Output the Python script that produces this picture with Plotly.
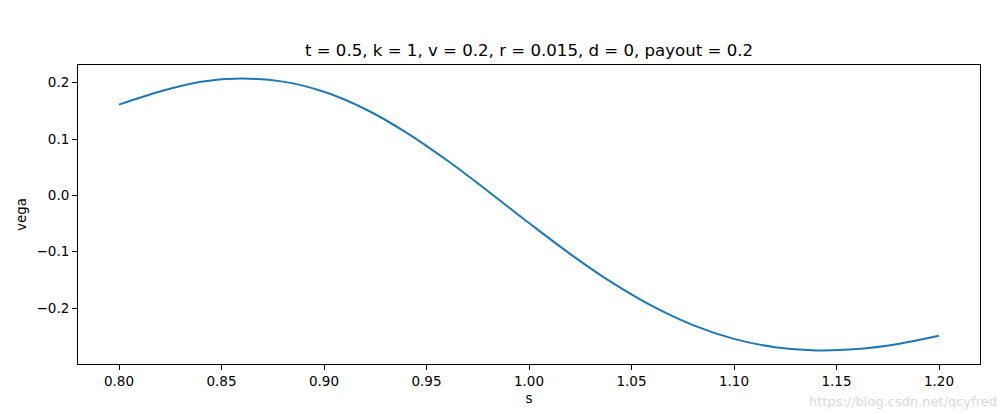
import plotly.graph_objects as go

s_values = [0.80, 0.82, 0.84, 0.86, 0.88, 0.90, 0.92, 0.94, 0.96, 0.98, 1.00,
            1.02, 1.04, 1.06, 1.08, 1.10, 1.12, 1.14, 1.16, 1.18, 1.20]
vega_values = [0.1612, 0.1846, 0.2018, 0.2074, 0.2020, 0.1839, 0.1534, 0.1120, 0.0623, 0.0075, -0.0490,
               -0.1037, -0.1536, -0.1963, -0.2303, -0.2547, -0.2695, -0.2752, -0.2728, -0.2637, -0.2493]
x_ticks = [0.80, 0.85, 0.90, 0.95, 1.00, 1.05, 1.10, 1.15, 1.20]
y_ticks = [-0.2, -0.1, 0.0, 0.1, 0.2]
title_text = "t = 0.5, k = 1, v = 0.2, r = 0.015, d = 0, payout = 0.2"

fig = go.Figure()
fig.add_trace(go.Scatter(x=s_values, y=vega_values, mode="lines",
                         line=dict(color="#1f77b4", width=2, shape="spline", smoothing=1.0),
                         showlegend=False, hoverinfo="skip"))

font = "DejaVu Sans"
axis_common = dict(showgrid=False, zeroline=False, showline=True, linecolor="black", linewidth=1,
                   mirror=True, ticks="outside", ticklen=5, tickwidth=1, tickcolor="black",
                   automargin=False,
                   tickfont=dict(family=font, size=13.5, color="black"))

W, H = 1000, 406
L, R, T, B = 70, 28, 57, 50
pw, ph = W - L - R, H - T - B

fig.update_layout(
    width=W, height=H,
    margin=dict(l=L, r=R, t=T, b=B, autoexpand=False),
    paper_bgcolor="white", plot_bgcolor="white",
    title=dict(text=title_text, x=521 / W, xanchor="center", y=1 - 42 / H, yanchor="middle",
               font=dict(family=font, size=16.6, color="black")),
    xaxis=dict(range=[0.78, 1.22], tickvals=x_ticks, ticktext=[f"{v:.2f}" for v in x_ticks],
               title=dict(text="s", font=dict(family=font, size=13.5, color="black"), standoff=5),
               **axis_common),
    yaxis=dict(range=[-0.2993, 0.2315], tickvals=y_ticks,
               ticktext=[(f"{v:.1f}" if v >= 0 else "\u2212" + f"{abs(v):.1f}") for v in y_ticks],
               title=dict(text="vega", font=dict(family=font, size=13.5, color="black"), standoff=6),
               **axis_common),
    annotations=[dict(text="https://blog.csdn.net/qcyfred", xref="paper", yref="paper",
                      x=(990 - L) / pw, y=-(402 - (H - B)) / ph, xanchor="right", yanchor="bottom",
                      showarrow=False, borderpad=0,
                      font=dict(family=font, size=13, color="#d9d9d9"))],
)

fig.write_html("out.html")
